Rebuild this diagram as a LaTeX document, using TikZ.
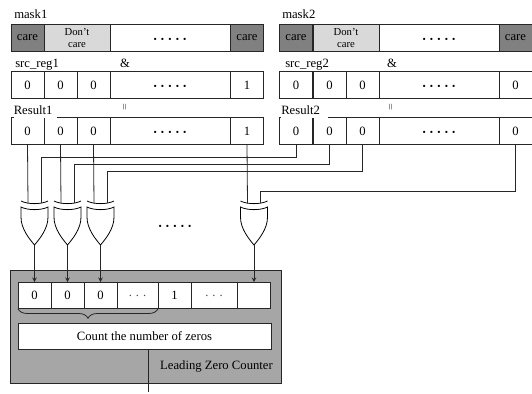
\documentclass[tikz,border=0pt]{standalone}
\usepackage{fontspec}
\setmainfont{Liberation Serif}
\usetikzlibrary{decorations.pathreplacing}

\newcommand{\fivedots}{\textbullet\hspace{3.1pt}\textbullet\hspace{3.1pt}\textbullet\hspace{3.1pt}\textbullet\hspace{3.1pt}\textbullet}
\newcommand{\threedots}{\textcolor{black!70}{.\hspace{3pt}.\hspace{3pt}.}}

\tikzset{
	cell/.style={draw=black!85, fill=white, line width=0.6pt, outer sep=0pt, inner sep=0pt, minimum height=20pt, minimum width=24.75pt, font=\fontsize{9.5}{10}\selectfont},
	wide/.style={cell, minimum width=90pt},
	care/.style={cell, fill=black!50},
	dontcare/.style={cell, fill=black!15, minimum width=49.5pt, align=center, font=\fontsize{8}{9.5}\selectfont},
	tag/.style={inner sep=0pt, font=\fontsize{9.5}{10}\selectfont},
	rowdots/.style={font=\fontsize{7}{7}\selectfont, yshift=-2pt},
	equal/.style={tag, rotate=90, text=black!70, font=\fontsize{9}{9}\selectfont},
	wire/.style={line width=0.6pt, draw=black!85},
	feed/.style={wire, -stealth},
	xorgate/.pic={
		\draw [line width=0.6pt] (-13.5,0) .. controls (-7,3.5) and (7,3.5) .. (13.5,0)
			-- (13.5,10) .. controls (13.5,22) and (5,32) .. (0,38)
			.. controls (-5,32) and (-13.5,22) .. (-13.5,10) -- cycle;
		\draw [line width=0.6pt] (-13.5,-6) .. controls (-7,-2.5) and (7,-2.5) .. (13.5,-6);
		\coordinate (-inl) at (-6.5,-3.7);
		\coordinate (-inr) at (6.5,-3.7);
		\coordinate (-out) at (0,38);
	}
}

\begin{document}
\begin{tikzpicture}[x=0.75pt, y=-0.75pt]
	\useasboundingbox (0,0) rectangle (532,393);

	% first register
	\node [tag, anchor=west] (labm1) at (14,14) {mask1};
	\node [care] (m1a) at (27.5,38) {care};
	\node [dontcare] (m1b) at (77,38) {Don't\\care};
	\node [wide] (m1n) at (170,38) {};
	\node [rowdots] (m1d) at (m1n) {\fivedots};
	\node [care] (m1z) at (247,38) {care};

	\node [tag, anchor=west] (labs1) at (15,64.5) {src\_reg1};
	\node [tag] (amp1) at (125,63) {\&};
	\node [cell] (s1a) at (27.5,85) {0};
	\node [cell] (s1b) at (60.5,85) {0};
	\node [cell] (s1c) at (93.5,85) {0};
	\node [wide] (s1n) at (170,85) {};
	\node [rowdots] (s1d) at (s1n) {\fivedots};
	\node [cell] (s1z) at (247,85) {1};

	\node [cell] (r1a) at (27.5,131) {0};
	\node [cell] (r1b) at (60.5,131) {0};
	\node [cell] (r1c) at (93.5,131) {0};
	\node [wide] (r1n) at (170,131) {};
	\node [rowdots] (r1d) at (r1n) {\fivedots};
	\node [cell] (r1z) at (247,131) {1};
	\node [tag, fill=white, anchor=south west, minimum width=32.5pt, minimum height=12pt, align=left, text width=32.5pt] (labr1) at (13.5,118.2) {Result1};
	\node [equal] (eq1) at (126,107) {=};

	% second register
	\node [tag, anchor=west] (labm2) at (282,14) {mask2};
	\node [care] (m2a) at (296,38) {care};
	\node [dontcare] (m2b) at (346,38) {Don't\\care};
	\node [wide] (m2n) at (439,38) {};
	\node [rowdots] (m2d) at (m2n) {\fivedots};
	\node [care] (m2z) at (515.5,38) {care};

	\node [tag, anchor=west] (labs2) at (285,64.5) {src\_reg2};
	\node [tag] (amp2) at (392,63) {\&};
	\node [cell] (s2a) at (296,85) {0};
	\node [cell] (s2b) at (329.5,85) {0};
	\node [cell] (s2c) at (362.5,85) {0};
	\node [wide] (s2n) at (439,85) {};
	\node [rowdots] (s2d) at (s2n) {\fivedots};
	\node [cell] (s2z) at (515.5,85) {0};

	\node [cell] (r2a) at (296,131) {0};
	\node [cell] (r2b) at (329.5,131) {0};
	\node [cell] (r2c) at (362.5,131) {0};
	\node [wide] (r2n) at (439,131) {};
	\node [rowdots] (r2d) at (r2n) {\fivedots};
	\node [cell] (r2z) at (515.5,131) {0};
	\node [tag, fill=white, anchor=south west, minimum width=35pt, minimum height=12pt, align=left, text width=35pt] (labr2) at (281,118.2) {Result2};
	\node [equal] (eq2) at (392,107) {=};

	% gates
	\pic (g1) at (34.5,207) {xorgate};
	\pic (g2) at (67.5,207) {xorgate};
	\pic (g3) at (100.5,207) {xorgate};
	\pic (g4) at (254,207) {xorgate};
	\node [rowdots] (gd) at (175,225) {\fivedots};

	\draw [wire] (r1a.south) -- (g1-inl);
	\draw [wire] (r1b.south) -- (g2-inl);
	\draw [wire] (r1c.south) -- (g3-inl);
	\draw [wire] (r1z.south) -- (g4-inl);
	\draw [wire] (r2a.south) -- ++(0,13) -| (g1-inr);
	\draw [wire] (r2b.south) -- ++(0,20) -| (g2-inr);
	\draw [wire] (r2c.south) -- ++(0,27) -| (g3-inr);
	\draw [wire] (r2z.south) -- ++(0,47) -| (g4-inr);

	% counter
	\node [draw=black!85, fill=black!35, line width=0.6pt, inner sep=0pt, outer sep=0pt, minimum width=203.25pt, minimum height=84.75pt] (lzc) at (145.5,326.5) {};
	\node [cell] (c1) at (34.5,295.5) {0};
	\node [cell] (c2) at (67.5,295.5) {0};
	\node [cell] (c3) at (100.5,295.5) {0};
	\node [cell, minimum width=30.75pt] (c4) at (137.5,295.5) {\threedots};
	\node [cell] (c5) at (174.5,295.5) {1};
	\node [cell, minimum width=34.5pt] (c6) at (214,295.5) {\threedots};
	\node [cell] (c7) at (254,295.5) {};
	\node [cell, minimum width=189.75pt] (count) at (144.5,336.5) {Count the number of zeros};
	\node [tag] (lzclab) at (216.5,366) {Leading Zero Counter};

	\draw [feed] (g1-out) -- (c1.north);
	\draw [feed] (g2-out) -- (c2.north);
	\draw [feed] (g3-out) -- (c3.north);
	\draw [feed] (g4-out) -- (c7.north);
	\draw [wire, decorate, decoration={brace, mirror, amplitude=7pt}] (c1.south west) -- (c4.south east);

	\coordinate (lzcout) at (148,392);
	\draw [wire] (lzcout |- count.south) -- (lzcout);
\end{tikzpicture}
\end{document}
